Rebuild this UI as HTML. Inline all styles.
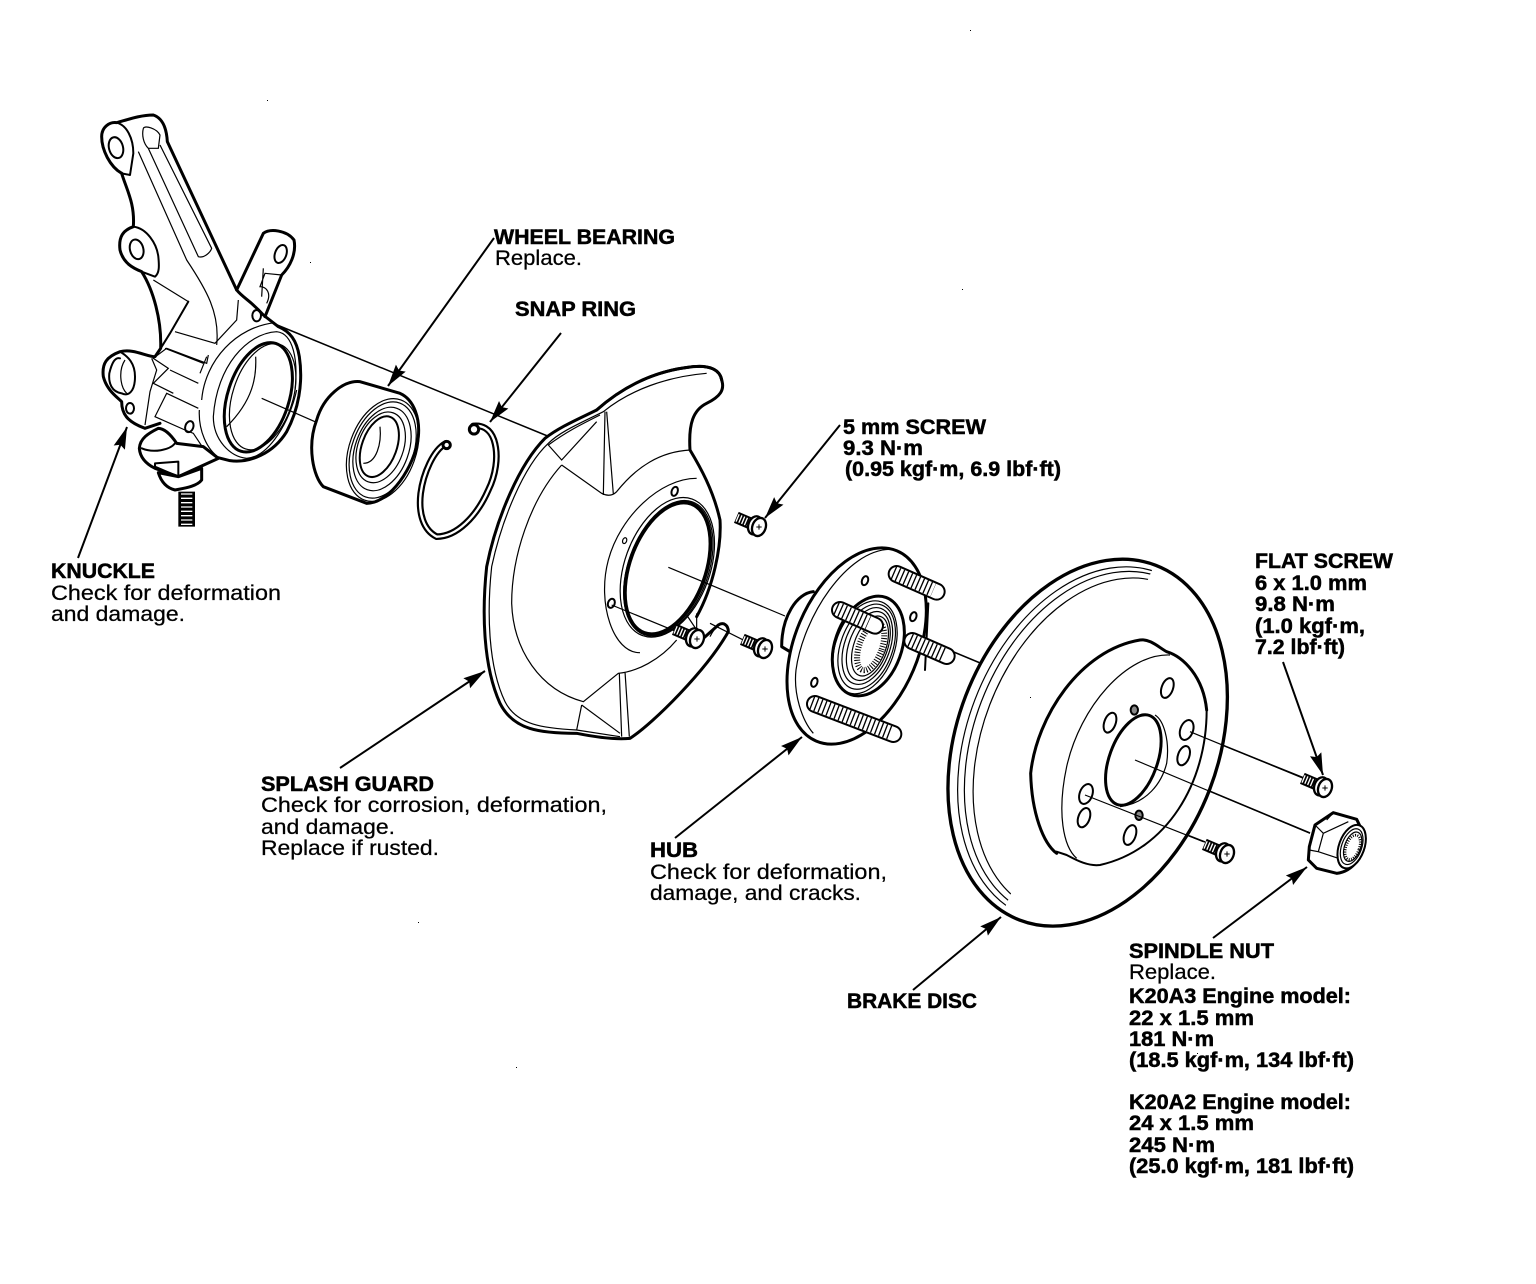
<!DOCTYPE html>
<html><head><meta charset="utf-8"><style>
html,body{margin:0;padding:0;background:#fff}
svg{display:block}
text{font-family:"Liberation Sans",sans-serif;font-size:21px;fill:#000}
.b{font-weight:bold;stroke:#000;stroke-width:.5px}
.r{stroke:#000;stroke-width:.25px}
.k{fill:none;stroke:#000;stroke-width:9;stroke-linejoin:round;stroke-linecap:round}
.m{fill:none;stroke:#000;stroke-width:6;stroke-linejoin:round;stroke-linecap:round}
.t{fill:none;stroke:#000;stroke-width:3.6}
.a{stroke:#000;stroke-width:2;fill:none}
.c{stroke:#000;stroke-width:1.5;fill:none}
</style></head><body>
<svg width="1536" height="1284" viewBox="0 0 1536 1284" xmlns="http://www.w3.org/2000/svg">
<defs>
<marker id="h" markerUnits="userSpaceOnUse" markerWidth="24" markerHeight="16" refX="22" refY="8" orient="auto"><path d="M0,2 L22,8 L0,14 L3,8 Z" fill="#000"/></marker>
<clipPath id="dc"><path d="M650,0 L-20,0 L-20,1170 L185,1170 L185,1095 L645,40 Z"/></clipPath>
<g id="s">
<line x1="-62" y1="-26" x2="-20" y2="-8" stroke="#000" stroke-width="36"/>
<line x1="-60" y1="-25" x2="-22" y2="-9" stroke="#fff" stroke-width="24" stroke-dasharray="4 5"/>
<ellipse cx="-6" cy="-2" rx="20" ry="28" transform="rotate(20 -6 -2)" fill="#fff" stroke="#000" stroke-width="7"/>
<ellipse cx="6" cy="3" rx="20" ry="28" transform="rotate(20 6 3)" fill="#fff" stroke="#000" stroke-width="7"/>
<path d="M-2,3 H14 M6,-5 V11" stroke="#000" stroke-width="3"/>
</g>
</defs>
<rect width="1536" height="1284" fill="#fff"/>

<!-- center lines -->
<path class="c" d="M265,320 L550,437 M913,635 L997,670 M1135,760 L1310,833 M1190,732 L1304,778 M1085,795 L1205,842"/>

<!-- Knuckle -->
<g transform="translate(90,100) scale(.33333)">
<path fill="#fff" stroke="none" d="M95,220 C60,200 35,150 35,110 C35,80 60,65 80,68 C110,60 150,45 190,45 C220,55 230,90 232,125 L440,570 L520,400 L612,420 L525,650 L630,720 L630,950 L440,1085 L210,970 L95,905 L40,830 L90,755 L212,745 L155,520 L90,450 L130,380 Z"/>
<path class="k" d="M95,220 C60,200 35,150 35,110 C35,80 60,65 80,68 C110,60 150,45 190,45 C220,55 230,90 232,125 L440,570 C460,595 480,600 520,645 L565,680 C600,695 620,720 628,770 C640,850 625,930 590,995 C550,1060 480,1090 420,1082 L380,1072"/>
<path class="k" d="M95,220 C110,270 135,310 130,380 C100,390 85,410 90,450 C100,490 130,505 155,515 C190,570 215,660 212,745 L195,770 C170,770 130,745 90,755 C50,770 35,790 40,830 C50,870 80,890 95,905 C95,940 110,965 165,985 L210,970"/>
<path class="k" d="M440,570 L520,400 C540,385 590,390 612,420 C620,460 600,500 575,525 L525,650"/>
<path class="m" d="M212,745 L240,700 L295,605"/>
<path class="t" d="M295,605 L190,540"/>
<path class="m" d="M130,380 C170,385 200,430 205,470 C208,500 208,520 195,530 L155,515"/>
<ellipse class="m" cx="78" cy="143" rx="21" ry="32" transform="rotate(-15 78 143)"/>
<ellipse class="m" cx="140" cy="448" rx="20" ry="30" transform="rotate(-15 140 448)"/>
<ellipse class="m" cx="572" cy="462" rx="17" ry="28" transform="rotate(20 572 462)"/>
<path class="t" d="M160,85 C165,75 200,85 210,105 L205,145 L175,145 C160,130 155,105 160,85 M175,145 L325,470 C340,475 360,460 365,445 L210,135 M145,155 L290,480 C350,570 390,640 380,735"/>
<path class="m" d="M80,68 C110,75 130,115 130,160 L120,225 L95,220"/>
<path class="t" d="M520,505 L515,590 M575,525 L525,520 L510,560 C530,560 545,580 530,610 M445,600 L440,660 L375,730 L255,695 M355,765 L350,790 L230,745 L190,775 L235,805 L190,850 L250,880 M340,790 L225,745 M325,850 L240,810 M325,925 L230,880 L195,950 L285,990 L310,1000 L350,1060"/>
<path class="m" d="M90,755 C115,770 135,790 135,830 C135,875 115,890 95,880 C65,875 55,850 58,820 C65,790 75,770 90,775"/>
<path class="t" d="M105,780 C85,810 90,860 110,880 M185,775 L200,810 L180,875 L165,975"/>
<ellipse class="m" cx="120" cy="925" rx="12" ry="16"/>
<ellipse class="m" cx="500" cy="647" rx="13" ry="17"/>
<ellipse class="m" cx="298" cy="980" rx="12" ry="17" transform="rotate(20 298 980)"/>
<!-- flange -->
<path class="t" d="M335,900 C345,780 440,680 555,668 M328,930 C325,990 350,1050 390,1075 M370,950 C380,800 470,700 560,695 C610,700 625,780 615,870 M370,950 C370,1020 420,1070 470,1075 C540,1070 600,960 620,870 M330,820 L350,770"/>
<ellipse cx="505" cy="892" rx="92" ry="170" transform="rotate(18 505 892)" fill="#fff" stroke="#000" stroke-width="9"/>
<ellipse class="t" cx="518" cy="890" rx="90" ry="165" transform="rotate(18 518 890)"/>
<path class="t" d="M497,770 C500,830 490,900 410,980"/>
<path class="t" d="M515,895 L675,965"/>
<!-- ball joint -->
<path class="k" style="fill:#fff" d="M205,985 C175,1000 150,1015 148,1045 C150,1070 165,1090 195,1105 L265,1130 L385,1075 L340,1040 L260,1030 C240,1000 220,985 205,985 Z"/>
<path class="m" d="M155,1045 C190,1060 240,1050 255,1030 M195,1090 L265,1085 L265,1130 L195,1100 Z"/>
<path class="k" style="fill:#fff" d="M205,1118 C215,1150 235,1165 255,1170 C280,1165 320,1160 335,1140 L335,1105 L265,1130 Z"/>
<line x1="290" y1="1175" x2="290" y2="1280" stroke="#000" stroke-width="50"/>
<line x1="290" y1="1180" x2="290" y2="1278" stroke="#fff" stroke-width="34" stroke-dasharray="4 9"/>
<!-- bearing -->
<path class="k" style="fill:#fff" d="M680,960 C700,890 760,840 810,845 L930,880 C975,900 990,960 985,1010 C975,1100 900,1210 830,1210 L700,1160 C670,1130 650,1040 680,960 Z"/>
<ellipse class="t" cx="878" cy="1050" rx="100" ry="160" transform="rotate(20 878 1050)"/>
<ellipse class="t" cx="878" cy="1050" rx="92" ry="150" transform="rotate(20 878 1050)"/>
<ellipse class="t" cx="876" cy="1047" rx="80" ry="130" transform="rotate(20 876 1047)"/>
<ellipse class="t" cx="872" cy="1042" rx="68" ry="110" transform="rotate(20 872 1042)"/>
<ellipse class="m" cx="868" cy="1040" rx="52" ry="95" transform="rotate(20 868 1040)"/>
<path class="t" d="M870,980 C875,1030 860,1090 820,1090"/>
<!-- snap ring -->
<path fill="none" stroke="#000" stroke-width="20" stroke-linecap="round" d="M1150,978 C1175,975 1200,985 1212,1020 C1228,1070 1215,1130 1195,1170 C1160,1250 1100,1310 1040,1310 C1000,1290 985,1240 992,1180 C1000,1120 1030,1050 1068,1030"/>
<path stroke="#fff" stroke-width="7" fill="none" d="M1150,978 C1175,975 1200,985 1212,1020 C1228,1070 1215,1130 1195,1170 C1160,1250 1100,1310 1040,1310 C1000,1290 985,1240 992,1180 C1000,1120 1030,1050 1068,1030"/>
<circle class="k" style="fill:#fff" cx="1152" cy="988" r="14"/>
<circle class="k" style="fill:#fff" cx="1070" cy="1035" r="11"/>
</g>

<!-- Splash guard -->
<g transform="translate(480,360) scale(.33333)">
<path class="k" style="fill:#fff" d="M725,60 C720,30 690,15 640,20 C540,30 440,70 350,150 C300,175 240,200 195,235 C120,310 50,470 20,620 C5,760 10,920 60,1030 C100,1110 180,1120 290,1120 C340,1130 400,1140 450,1135 C520,1090 680,930 745,815 C745,795 730,785 715,795 L670,835"/>
<path fill="#fff" stroke="none" d="M640,20 L725,60 L680,130 L630,270 L720,480 L650,770 L400,800 L300,200 Z"/>
<path class="k" d="M725,60 C735,90 720,110 680,130 C640,150 625,190 630,270 C660,320 700,390 720,480 C725,560 700,680 650,770"/>
<path class="k" d="M725,60 C720,30 690,15 640,20 C540,30 440,70 350,150"/>
<path class="t" d="M680,40 C560,50 450,90 370,155 C300,190 240,215 205,250 C130,320 65,480 35,620 C20,760 25,920 75,1025 C110,1095 190,1105 290,1110 L420,1130"/>
<path class="t" d="M360,165 C300,195 260,215 205,255 L245,300 L350,185 M375,155 L370,405 M380,155 L400,402 M245,315 L365,400 C385,410 400,405 410,395 C470,320 540,275 630,270 M245,315 C150,420 95,590 95,730 C100,870 180,990 310,1025 L415,940 C470,935 540,900 590,840 M305,1035 L290,1110 M305,1035 L420,1120 M418,940 L425,1130 M435,935 L448,1130"/>
<path class="t" d="M650,355 C540,355 420,470 385,600 C350,730 400,880 480,878"/>
<ellipse class="t" cx="562" cy="622" rx="128" ry="218" transform="rotate(20 562 622)"/>
<ellipse cx="565" cy="625" rx="120" ry="212" transform="rotate(20 565 625)" fill="#fff" stroke="#000" stroke-width="3.6"/>
<ellipse cx="563" cy="625" rx="114" ry="206" transform="rotate(20 563 625)" fill="#fff" stroke="#000" stroke-width="11"/>
<path class="t" d="M565,622 L915,768"/>
<ellipse class="m" cx="584" cy="394" rx="9" ry="14" transform="rotate(20 584 394)"/>
<ellipse class="t" cx="434" cy="542" rx="6" ry="9" transform="rotate(20 434 542)"/>
<ellipse class="m" cx="394" cy="730" rx="10" ry="14" transform="rotate(20 394 730)"/>
<path class="t" d="M395,735 L590,815 M690,790 L800,845 M650,760 L650,810 L620,765 M690,830 C700,810 715,790 735,790"/>
<!-- Hub -->
<path class="k" style="fill:#fff" d="M1000,695 C950,700 905,770 905,860 L930,875"/>
<ellipse cx="1130" cy="858" rx="185" ry="310" transform="rotate(23 1130 858)" fill="#fff" stroke="#000" stroke-width="9"/>
<path class="t" d="M1230,568 C1100,570 970,770 948,930 C940,1000 965,1080 1000,1120"/>
<path class="m" d="M1345,730 L1335,930"/>
<ellipse class="m" cx="1155" cy="662" rx="9" ry="14" transform="rotate(20 1155 662)"/>
<ellipse class="m" cx="1300" cy="770" rx="9" ry="14" transform="rotate(20 1300 770)"/>
<ellipse class="m" cx="1003" cy="967" rx="9" ry="14" transform="rotate(20 1003 967)"/>
<ellipse cx="1165" cy="858" rx="100" ry="155" transform="rotate(20 1165 858)" fill="#fff" stroke="#000" stroke-width="9"/>
<ellipse class="t" cx="1155" cy="862" rx="88" ry="145" transform="rotate(20 1155 862)"/>
<ellipse class="t" cx="1160" cy="860" rx="78" ry="133" transform="rotate(20 1160 860)"/>
<ellipse class="t" cx="1162" cy="858" rx="68" ry="120" transform="rotate(20 1162 858)"/>
<ellipse class="t" cx="1165" cy="858" rx="58" ry="108" transform="rotate(20 1165 858)"/>
<ellipse class="t" cx="1170" cy="858" rx="48" ry="94" transform="rotate(20 1170 858)"/>
<ellipse cx="1172" cy="860" rx="34" ry="74" transform="rotate(20 1172 860)" fill="none" stroke="#000" stroke-width="18" stroke-dasharray="3 5"/>
<g>
<line x1="1250" y1="642" x2="1370" y2="695" stroke="#000" stroke-width="54" stroke-linecap="round"/>
<line x1="1250" y1="642" x2="1370" y2="695" stroke="#fff" stroke-width="42" stroke-linecap="round"/>
<line x1="1240" y1="638" x2="1360" y2="690" stroke="#000" stroke-width="42" stroke-dasharray="4 9"/>
<line x1="1297" y1="843" x2="1400" y2="888" stroke="#000" stroke-width="54" stroke-linecap="round"/>
<line x1="1297" y1="843" x2="1400" y2="888" stroke="#fff" stroke-width="42" stroke-linecap="round"/>
<line x1="1290" y1="840" x2="1390" y2="884" stroke="#000" stroke-width="42" stroke-dasharray="4 9"/>
<line x1="1080" y1="750" x2="1185" y2="797" stroke="#000" stroke-width="54" stroke-linecap="round"/>
<line x1="1080" y1="750" x2="1185" y2="797" stroke="#fff" stroke-width="42" stroke-linecap="round"/>
<line x1="1068" y1="745" x2="1165" y2="788" stroke="#000" stroke-width="42" stroke-dasharray="4 9"/>
<line x1="1005" y1="1032" x2="1240" y2="1122" stroke="#000" stroke-width="54" stroke-linecap="round"/>
<line x1="1005" y1="1032" x2="1240" y2="1122" stroke="#fff" stroke-width="42" stroke-linecap="round"/>
<line x1="995" y1="1028" x2="1230" y2="1118" stroke="#000" stroke-width="42" stroke-dasharray="4 9"/>
</g>
</g>

<!-- Brake disc -->
<g transform="translate(940,550) scale(.33333)">
<ellipse cx="443" cy="578" rx="392" ry="570" transform="rotate(21 443 578)" fill="#fff" stroke="#000" stroke-width="10"/>
<g clip-path="url(#dc)">
<ellipse class="t" cx="455" cy="583" rx="375" ry="552" transform="rotate(21 455 583)"/>
<ellipse class="t" cx="465" cy="585" rx="365" ry="540" transform="rotate(21 465 585)"/>
<ellipse class="t" cx="478" cy="590" rx="352" ry="525" transform="rotate(21 478 590)"/>
</g>
<path class="k" d="M350,910 C310,880 275,790 272,670 C290,500 420,300 600,270 C630,265 660,295 680,305 C730,320 790,380 800,480"/>
<path class="m" d="M800,480 C800,700 680,900 480,945 C440,950 400,925 380,915 L350,905"/>
<path class="t" d="M690,315 C560,310 420,470 380,650 C350,790 370,890 410,925"/>
<path class="t" d="M645,495 C670,510 690,570 680,640 C665,700 620,760 540,770"/>
<ellipse cx="580" cy="630" rx="72" ry="142" transform="rotate(20 580 630)" fill="#fff" stroke="#000" stroke-width="9"/>
<ellipse class="m" cx="682" cy="414" rx="17" ry="31" transform="rotate(20 682 414)"/>
<ellipse class="m" cx="510" cy="518" rx="17" ry="31" transform="rotate(20 510 518)"/>
<ellipse class="m" cx="740" cy="540" rx="19" ry="31" transform="rotate(20 740 540)"/>
<ellipse class="m" cx="731" cy="617" rx="17" ry="30" transform="rotate(20 731 617)"/>
<ellipse class="m" cx="438" cy="732" rx="19" ry="31" transform="rotate(20 438 732)"/>
<ellipse class="m" cx="432" cy="803" rx="17" ry="30" transform="rotate(20 432 803)"/>
<ellipse class="m" cx="570" cy="855" rx="17" ry="31" transform="rotate(20 570 855)"/>
<ellipse class="m" cx="583" cy="480" rx="11" ry="14" style="fill:#888"/>
<ellipse class="m" cx="597" cy="796" rx="11" ry="14" style="fill:#888"/>
<path class="t" d="M585,630 L1110,850 M750,545 L1090,685 M435,735 L790,875"/>
<!-- nut -->
<path class="k" style="fill:#fff" d="M1108,890 L1125,825 L1180,788 L1250,808 L1275,860 C1278,910 1240,965 1190,970 L1130,955 L1105,930 Z"/>
<path class="t" d="M1125,825 L1150,850 L1225,815 M1150,850 L1135,905 L1108,900 M1135,905 L1195,925 M1180,788 L1160,810"/>
<ellipse class="m" style="fill:#fff" cx="1235" cy="890" rx="38" ry="68" transform="rotate(20 1235 890)"/>
<ellipse class="t" cx="1235" cy="890" rx="30" ry="56" transform="rotate(20 1235 890)"/>
<ellipse class="t" cx="1238" cy="890" rx="24" ry="46" transform="rotate(20 1238 890)"/>
<ellipse cx="1238" cy="892" rx="20" ry="38" transform="rotate(20 1238 892)" fill="none" stroke="#000" stroke-width="8" stroke-dasharray="3 4"/>
</g>
<use href="#s" transform="translate(1323,787) scale(.3333)"/>
<use href="#s" transform="translate(1225,853) scale(.3333)"/>
<use href="#s" transform="translate(757,526) scale(.3333)"/>
<use href="#s" transform="translate(695,638) scale(.3333)"/>
<use href="#s" transform="translate(763,648) scale(.3333)"/>

<!-- leaders -->
<g>
<line class="a" x1="494" y1="238" x2="388" y2="386" marker-end="url(#h)"/>
<line class="a" x1="561" y1="333" x2="490" y2="422" marker-end="url(#h)"/>
<line class="a" x1="78" y1="558" x2="127" y2="427" marker-end="url(#h)"/>
<line class="a" x1="340" y1="768" x2="485" y2="671" marker-end="url(#h)"/>
<line class="a" x1="675" y1="838" x2="802" y2="737" marker-end="url(#h)"/>
<line class="a" x1="913" y1="990" x2="1001" y2="917" marker-end="url(#h)"/>
<line class="a" x1="1213" y1="938" x2="1307" y2="867" marker-end="url(#h)"/>
<line class="a" x1="1283" y1="662" x2="1323" y2="775" marker-end="url(#h)"/>
<line class="a" x1="840" y1="425" x2="765" y2="518" marker-end="url(#h)"/>
</g>

<!-- labels -->
<g transform="translate(0,-1)">
<text class="b" x="494" y="245" textLength="181" lengthAdjust="spacingAndGlyphs">WHEEL BEARING</text>
<text class="r" x="495" y="266" textLength="87" lengthAdjust="spacingAndGlyphs">Replace.</text>
<text class="b" x="515" y="317" textLength="121" lengthAdjust="spacingAndGlyphs">SNAP RING</text>
<text class="b" x="843" y="435" textLength="143" lengthAdjust="spacingAndGlyphs">5 mm SCREW</text>
<text class="b" x="843" y="456" textLength="80" lengthAdjust="spacingAndGlyphs">9.3 N·m</text>
<text class="b" x="845" y="477" textLength="216" lengthAdjust="spacingAndGlyphs">(0.95 kgf·m, 6.9 lbf·ft)</text>
<text class="b" x="1255" y="569" textLength="138" lengthAdjust="spacingAndGlyphs">FLAT SCREW</text>
<text class="b" x="1255" y="591" textLength="112" lengthAdjust="spacingAndGlyphs">6 x 1.0 mm</text>
<text class="b" x="1255" y="612" textLength="80" lengthAdjust="spacingAndGlyphs">9.8 N·m</text>
<text class="b" x="1255" y="634" textLength="110" lengthAdjust="spacingAndGlyphs">(1.0 kgf·m,</text>
<text class="b" x="1255" y="655" textLength="90" lengthAdjust="spacingAndGlyphs">7.2 lbf·ft)</text>
<text class="b" x="51" y="579" textLength="104" lengthAdjust="spacingAndGlyphs">KNUCKLE</text>
<text class="r" x="51" y="601" textLength="230" lengthAdjust="spacingAndGlyphs">Check for deformation</text>
<text class="r" x="51" y="622" textLength="134" lengthAdjust="spacingAndGlyphs">and damage.</text>
<text class="b" x="261" y="792" textLength="173" lengthAdjust="spacingAndGlyphs">SPLASH GUARD</text>
<text class="r" x="261" y="813" textLength="346" lengthAdjust="spacingAndGlyphs">Check for corrosion, deformation,</text>
<text class="r" x="261" y="835" textLength="134" lengthAdjust="spacingAndGlyphs">and damage.</text>
<text class="r" x="261" y="856" textLength="178" lengthAdjust="spacingAndGlyphs">Replace if rusted.</text>
<text class="b" x="650" y="858" textLength="48" lengthAdjust="spacingAndGlyphs">HUB</text>
<text class="r" x="650" y="880" textLength="237" lengthAdjust="spacingAndGlyphs">Check for deformation,</text>
<text class="r" x="650" y="901" textLength="211" lengthAdjust="spacingAndGlyphs">damage, and cracks.</text>
<text class="b" x="847" y="1009" textLength="130" lengthAdjust="spacingAndGlyphs">BRAKE DISC</text>
<text class="b" x="1129" y="959" textLength="145" lengthAdjust="spacingAndGlyphs">SPINDLE NUT</text>
<text class="r" x="1129" y="980" textLength="87" lengthAdjust="spacingAndGlyphs">Replace.</text>
<text class="b" x="1129" y="1004" textLength="222" lengthAdjust="spacingAndGlyphs">K20A3 Engine model:</text>
<text class="b" x="1129" y="1026" textLength="125" lengthAdjust="spacingAndGlyphs">22 x 1.5 mm</text>
<text class="b" x="1129" y="1047" textLength="85" lengthAdjust="spacingAndGlyphs">181 N·m</text>
<text class="b" x="1129" y="1068" textLength="225" lengthAdjust="spacingAndGlyphs">(18.5 kgf·m, 134 lbf·ft)</text>
<text class="b" x="1129" y="1110" textLength="222" lengthAdjust="spacingAndGlyphs">K20A2 Engine model:</text>
<text class="b" x="1129" y="1131" textLength="125" lengthAdjust="spacingAndGlyphs">24 x 1.5 mm</text>
<text class="b" x="1129" y="1153" textLength="86" lengthAdjust="spacingAndGlyphs">245 N·m</text>
<text class="b" x="1129" y="1174" textLength="225" lengthAdjust="spacingAndGlyphs">(25.0 kgf·m, 181 lbf·ft)</text>
</g>
<!-- specks -->
<g fill="#000"><rect x="970" y="30" width="1" height="1"/><rect x="962" y="289" width="1" height="1"/><rect x="267" y="100" width="1" height="1"/><rect x="418" y="922" width="1" height="1"/><rect x="516" y="1067" width="1" height="1"/><rect x="1197" y="1053" width="1" height="1"/><rect x="310" y="262" width="1" height="1"/><rect x="1030" y="697" width="1" height="1"/></g>
</svg>
</body></html>
